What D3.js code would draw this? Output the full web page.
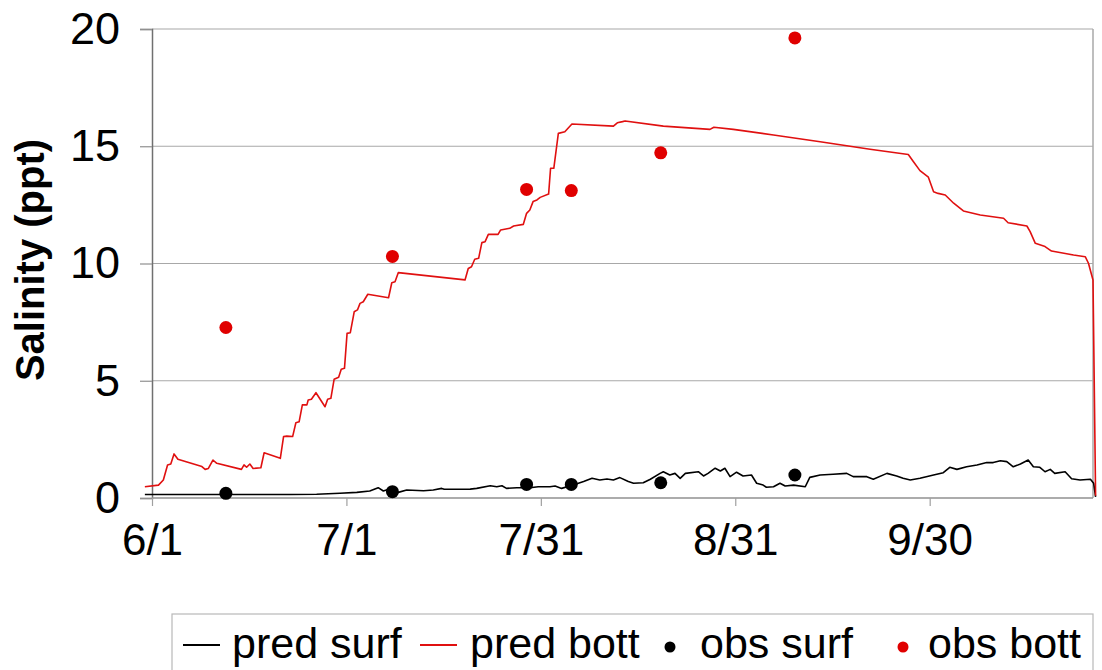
<!DOCTYPE html>
<html><head><meta charset="utf-8">
<script src="https://cdn.jsdelivr.net/npm/d3@7"></script>
<style>
html,body{margin:0;padding:0;background:#fff;}
svg{display:block;font-family:"Liberation Sans",Arial,sans-serif;}
</style></head>
<body><svg id="c" width="1102" height="670"></svg>
<script>
// ---- data (day offset from 6/1, salinity ppt) ----
const tickDays = [0, 30, 60, 90, 120];
const tickLabels = ["6/1", "7/1", "7/31", "8/31", "9/30"];
const yTicks = [0, 5, 10, 15, 20];

const predBottDays = [-1.1,1.0,1.75,2.4,2.9,3.4,4.0,7.7,8.2,8.7,9.4,10.0,13.8,14.2,14.6,15.1,15.6,16.8,17.3,19.8,20.3,20.8,21.7,22.2,22.7,23.2,23.9,24.1,24.6,25.3,26.7,27.1,27.6,28.1,28.8,29.2,29.7,30.1,30.6,31.2,31.7,32.1,32.6,33.3,36.5,37.0,37.5,38.0,48.3,48.8,49.3,49.8,50.4,50.9,51.4,51.9,53.4,53.8,55.2,55.8,57.3,57.8,58.3,58.8,59.4,59.9,61.2,61.5,62.0,62.7,63.7,64.8,71.2,71.8,72.6,73.0,78.9,86.1,86.7,89.7,95.9,103.1,110.8,116.7,117.5,118.5,119.8,120.6,121.3,122.4,123.7,125.2,127.8,131.4,132.1,135.0,135.5,136.3,137.8,138.8,142.2,144.0,144.5,145.2,145.6];
const predBott = [0.48,0.55,0.77,1.41,1.45,1.88,1.65,1.34,1.22,1.26,1.62,1.48,1.22,1.41,1.31,1.45,1.26,1.29,1.93,1.69,2.62,2.64,2.62,3.21,3.25,3.97,3.97,4.18,4.21,4.49,3.89,4.21,4.25,5.06,5.15,5.49,5.53,7.02,7.05,7.94,8.02,8.30,8.37,8.69,8.54,9.18,9.22,9.61,9.30,9.79,9.86,10.18,10.22,10.89,10.93,11.24,11.24,11.43,11.50,11.60,11.67,12.14,12.28,12.64,12.71,12.82,12.96,14.06,14.06,15.55,15.62,15.95,15.86,16.00,16.05,16.08,15.86,15.72,15.81,15.72,15.48,15.19,14.87,14.65,14.34,13.96,13.68,13.06,12.99,12.92,12.57,12.24,12.07,11.93,11.74,11.60,11.36,10.86,10.72,10.53,10.36,10.29,10.01,9.30,0.10];

const predSurfDays = [-1.1,21.3,25.4,29.0,31.6,33.6,34.9,35.7,36.5,38.0,39.3,41.9,43.4,44.7,45.1,49.1,50.1,52.2,53.2,54.0,54.7,56.3,58.3,59.6,61.4,62.2,63.2,65.0,66.6,67.9,69.1,70.2,71.2,72.2,73.5,74.3,75.8,76.9,78.4,78.9,79.9,80.7,81.5,82.3,84.3,85.1,85.8,86.9,87.7,88.4,89.2,90.2,91.2,92.5,93.3,94.3,94.8,95.9,96.9,97.7,99.0,100.8,101.5,103.1,105.1,107.2,108.2,110.3,111.3,113.4,114.9,115.9,117.0,118.5,120.6,122.1,123.1,124.2,125.7,127.3,128.8,129.8,130.9,131.9,132.9,134.0,135.2,136.0,137.0,137.8,138.6,139.3,140.9,141.9,143.2,144.8,145.3,145.6];
const predSurf = [0.15,0.15,0.16,0.20,0.24,0.30,0.44,0.30,0.37,0.24,0.34,0.31,0.34,0.41,0.37,0.38,0.41,0.52,0.48,0.52,0.41,0.44,0.44,0.48,0.48,0.51,0.41,0.55,0.70,0.84,0.77,0.81,0.77,0.87,0.70,0.63,0.65,0.80,1.05,1.12,0.98,1.05,0.84,1.05,1.12,0.94,1.05,1.27,1.15,1.27,0.91,1.10,0.94,0.98,0.63,0.55,0.46,0.48,0.63,0.51,0.55,0.48,0.88,0.98,1.01,1.05,0.91,0.91,0.80,1.05,0.94,0.84,0.77,0.84,0.98,1.08,1.31,1.22,1.33,1.41,1.51,1.51,1.59,1.55,1.33,1.45,1.62,1.33,1.31,1.12,1.22,1.05,1.12,0.82,0.77,0.80,0.63,0.05];

const obsDays = [11.4, 37.1, 57.8, 64.7, 78.5, 99.2];
const obsSurf = [0.20, 0.27, 0.58, 0.58, 0.65, 0.98];
const obsBott = [7.27, 10.30, 13.16, 13.11, 14.72, 19.62];

const seriesNames = ["pred surf", "pred bott", "obs surf", "obs bott"];
const seriesColors = ["#000000", "#e01010", "#000000", "#e00000"];

// ---- chart ----
(function () {
const svg = d3.select("#c");
const pl = 152, pr = 1093, pt = 29, pb = 498;
const x = d3.scaleLinear().domain([0, 145.2]).range([pl, pr]);
const y = d3.scaleLinear().domain([0, 20]).range([pb, pt]);
const FONT = "'Liberation Sans',Arial,sans-serif";

// gridlines
svg.append("g").selectAll("line").data(yTicks.filter(d => d > 0)).join("line")
  .attr("x1", pl).attr("x2", pr)
  .attr("y1", d => y(d)).attr("y2", d => y(d))
  .attr("stroke", "#a8a8a8").attr("stroke-width", 1.2);
// right border
svg.append("line").attr("x1", pr).attr("x2", pr).attr("y1", pt).attr("y2", pb)
  .attr("stroke", "#a8a8a8").attr("stroke-width", 1.5);

// y axis
const yAxis = svg.append("g").attr("transform", `translate(${pl},0)`)
  .call(d3.axisLeft(y).tickValues(yTicks).tickSize(12).tickPadding(20).tickFormat(d3.format("d")));
yAxis.select(".domain").attr("stroke", "#707070").attr("stroke-width", 1.5);
yAxis.selectAll(".tick line").attr("stroke", "#909090").attr("stroke-width", 1.2);
yAxis.selectAll("text").attr("font-size", 45).attr("fill", "#000").attr("font-family", FONT);

// x axis
const xAxis = svg.append("g").attr("transform", `translate(0,${pb})`)
  .call(d3.axisBottom(x).tickValues(tickDays).tickSize(8).tickPadding(18)
    .tickFormat((d, i) => tickLabels[i]));
xAxis.select(".domain").attr("stroke", "#909090").attr("stroke-width", 1.5)
  .attr("d", `M${pl},0H${pr}`);
xAxis.selectAll(".tick line").attr("stroke", "#a0a0a0").attr("stroke-width", 1.2);
xAxis.selectAll("text").attr("font-size", 44).attr("fill", "#000").attr("font-family", FONT);

// y label
svg.append("text").attr("transform", `translate(44,260) rotate(-90)`)
  .attr("text-anchor", "middle").attr("font-size", 40).attr("font-weight", "bold")
  .attr("font-family", FONT).text("Salinity (ppt)");

// lines
const line = d3.line().x(d => x(d[0])).y(d => y(d[1]));
const bottPts = predBottDays.map((d, i) => [d, predBott[i]]);
const surfPts = predSurfDays.map((d, i) => [d, predSurf[i]]);
svg.append("path").datum(surfPts).attr("d", line).attr("fill", "none")
  .attr("stroke", seriesColors[0]).attr("stroke-width", 1.6).attr("stroke-linejoin", "round");
svg.append("path").datum(bottPts).attr("d", line).attr("fill", "none")
  .attr("stroke", seriesColors[1]).attr("stroke-width", 1.6).attr("stroke-linejoin", "round");

// obs points
svg.append("g").selectAll("circle").data(obsDays).join("circle")
  .attr("cx", d => x(d)).attr("cy", (d, i) => y(obsSurf[i])).attr("r", 6.5)
  .attr("fill", seriesColors[2]);
svg.append("g").selectAll("circle").data(obsDays).join("circle")
  .attr("cx", d => x(d)).attr("cy", (d, i) => y(obsBott[i])).attr("r", 6.5)
  .attr("fill", seriesColors[3]);

// legend
const lg = svg.append("g");
lg.append("rect").attr("x", 172).attr("y", 614).attr("width", 921).attr("height", 70)
  .attr("fill", "#fff").attr("stroke", "#b8b8b8").attr("stroke-width", 1.2);
const symX = [183, 420, 660, 893];
const symW = [37, 37, 0, 0];
const textX = [232, 470, 700, 928];
const ly = 645;
seriesNames.forEach((name, i) => {
  if (i < 2) {
    lg.append("line").attr("x1", symX[i]).attr("x2", symX[i] + symW[i])
      .attr("y1", ly).attr("y2", ly).attr("stroke", seriesColors[i]).attr("stroke-width", 2);
  } else {
    lg.append("circle").attr("cx", symX[i] + 10).attr("cy", ly + 2).attr("r", 5.5)
      .attr("fill", seriesColors[i]);
  }
  lg.append("text").attr("x", textX[i]).attr("y", 658).attr("font-size", 43)
    .attr("font-family", FONT).attr("fill", "#000").text(name);
});
})();
</script></body></html>
